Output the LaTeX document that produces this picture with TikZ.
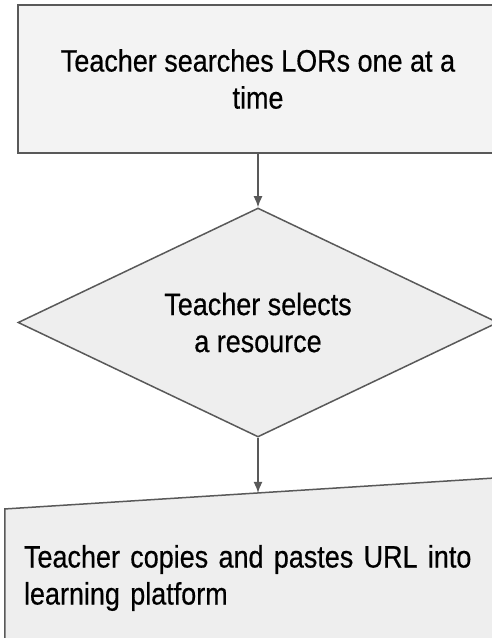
\documentclass[tikz,border=0pt]{standalone}
\usepackage{fontspec}
\setmainfont{Liberation Sans}[FakeStretch=0.87, FakeBold=0.5]
\usetikzlibrary{shapes.geometric, arrows.meta, backgrounds}
\definecolor{edgegray}{HTML}{595959}
\definecolor{boxfill}{HTML}{F3F3F3}
\definecolor{shapefill}{HTML}{EEEEEE}
\tikzstyle{process} = [rectangle, minimum width=480pt, minimum height=148pt, align=center, draw=edgegray, line width=1.5pt, fill=boxfill, font=\fontsize{31pt}{37pt}\selectfont]
\tikzstyle{decision} = [diamond, aspect=2.1, minimum width=480pt, minimum height=229pt, align=center, draw=edgegray, line width=1.5pt, fill=shapefill, font=\fontsize{31pt}{37pt}\selectfont]
\tikzstyle{manualin} = [rectangle, text width=468pt, inner xsep=19pt, inner ysep=51.9pt, align=left, font=\fontsize{31pt}{37pt}\selectfont]
\tikzstyle{manualedge} = [draw=edgegray, line width=1.5pt, fill=shapefill]
\tikzstyle{arrow} = [draw=edgegray, line width=1.5pt, -{Latex[length=11pt,width=9pt]}]

\begin{document}
\begin{tikzpicture}[x=1pt, y=-1pt, node distance=243.5pt]
\useasboundingbox (0,0) rectangle (491,638);

\node (search) [process] at (258,79) {Teacher searches LORs one at a\\time};
\node (select) [decision, below of=search] {Teacher selects\\a resource};
\node (paste) [manualin, below of=select, yshift=-12pt] {Teacher copies and pastes URL into\\learning platform};

\begin{scope}[on background layer]
\path[manualedge] (paste.south west) -- ([yshift=-16pt]paste.north west) -- ([yshift=16pt]paste.north east) -- (paste.south east) -- cycle;
\end{scope}

\draw [arrow] (search) -- (select);
\draw [arrow] (select) -- (paste);
\end{tikzpicture}
\end{document}
